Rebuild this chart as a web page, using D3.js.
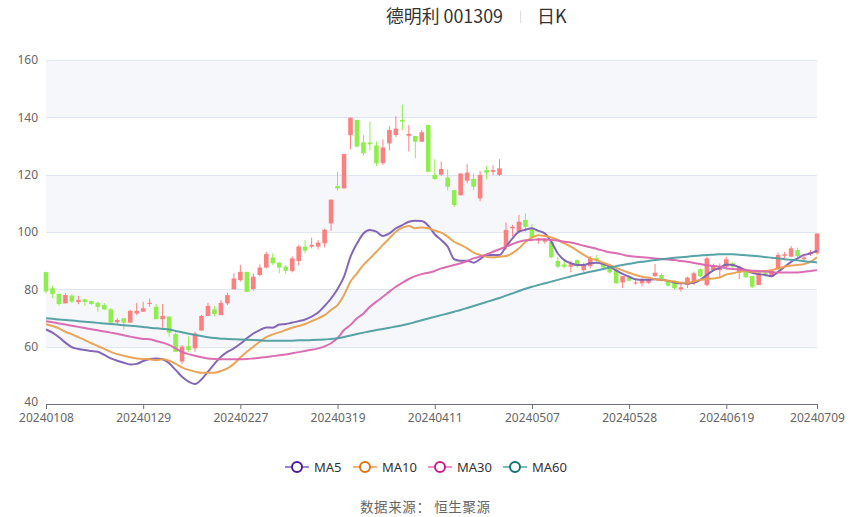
<!DOCTYPE html>
<html><head><meta charset="utf-8">
<script src="https://cdn.jsdelivr.net/npm/d3@7/dist/d3.min.js"></script>
<style>
html,body{margin:0;padding:0;background:#fff;}
svg{display:block;font-family:"Noto Sans CJK SC","Noto Sans",sans-serif;}
</style></head>
<body><svg id="c" width="850" height="517"></svg>
<script>
const dates = ["20240108","20240109","20240110","20240111","20240112","20240115","20240116","20240117","20240118","20240119",
"20240122","20240123","20240124","20240125","20240126","20240129","20240130","20240131","20240201","20240202",
"20240205","20240206","20240207","20240208","20240219","20240220","20240221","20240222","20240223","20240226",
"20240227","20240228","20240229","20240301","20240304","20240305","20240306","20240307","20240308","20240311",
"20240312","20240313","20240314","20240315","20240318","20240319","20240320","20240321","20240322","20240325",
"20240326","20240327","20240328","20240329","20240401","20240402","20240403","20240408","20240409","20240410",
"20240411","20240412","20240415","20240416","20240417","20240418","20240419","20240422","20240423","20240424",
"20240425","20240426","20240429","20240430","20240506","20240507","20240508","20240509","20240510","20240513",
"20240514","20240515","20240516","20240517","20240520","20240521","20240522","20240523","20240524","20240527",
"20240528","20240529","20240530","20240531","20240603","20240604","20240605","20240606","20240607","20240611",
"20240612","20240613","20240614","20240617","20240618","20240619","20240620","20240621","20240624","20240625",
"20240626","20240627","20240628","20240701","20240702","20240703","20240704","20240705","20240708","20240709"];
const tickLabels = ["20240108","20240129","20240227","20240319","20240411","20240507","20240528","20240619","20240709"];
const yTicks = [40,60,80,100,120,140,160];
// [open, close, low, high]
const ohlc = [
[86.0,79.3,78.6,86.2],[80.4,78.4,76.9,81.2],[78.4,74.9,74.3,78.4],[75.1,78.0,75.1,78.6],[77.8,75.7,75.2,78.3],
[75.6,76.3,74.8,77.7],[76.5,75.6,74.3,76.7],[75.9,74.9,74.6,76.1],[75.3,73.9,72.2,75.7],[74.5,73.0,72.8,75.2],
[73.0,68.4,68.0,73.5],[68.5,69.3,68.1,69.9],[69.9,68.4,66.0,69.9],[68.4,72.5,68.4,72.8],[71.6,72.5,71.0,75.3],
[72.2,73.4,72.2,75.7],[74.9,75.3,73.9,76.8],[73.9,69.6,69.6,74.9],[69.6,70.7,66.4,74.9],[70.5,64.9,63.5,70.5],
[64.4,58.2,58.2,64.9],[54.8,60.0,54.0,60.6],[60.2,58.8,58.2,63.5],[59.4,64.6,58.2,65.2],[65.6,70.7,65.6,71.0],
[70.7,74.2,70.7,75.3],[73.0,71.4,70.5,74.2],[71.0,75.3,71.0,76.2],[75.1,78.0,74.5,78.8],[80.0,83.8,80.0,85.6],
[83.2,86.1,82.7,88.5],[86.1,79.1,79.0,86.1],[80.1,84.4,79.5,85.5],[85.0,87.6,84.6,88.7],[87.6,92.3,87.3,93.1],
[91.1,89.1,88.5,92.6],[89.3,87.6,85.6,89.6],[87.9,86.5,85.3,88.5],[86.4,90.8,85.9,91.5],[89.9,94.9,88.3,95.5],
[94.9,93.5,92.6,97.2],[94.9,95.5,94.3,98.0],[94.9,96.3,94.0,97.2],[96.1,100.8,94.6,101.1],[103.0,111.3,100.4,111.3],
[116.0,115.2,114.4,121.0],[115.2,127.2,115.2,127.2],[133.8,139.9,128.8,139.9],[139.1,129.8,129.5,139.1],[131.3,127.5,126.8,133.8],
[131.2,130.6,128.5,138.5],[130.2,124.0,122.9,131.5],[124.0,129.5,123.4,132.3],[130.9,135.6,128.5,136.9],[133.8,136.1,133.1,140.4],
[139.1,138.5,135.6,144.5],[133.6,134.2,128.1,137.3],[133.5,131.5,125.7,133.5],[131.5,134.8,131.5,135.6],[137.3,121.0,121.0,137.3],
[119.9,118.5,118.1,125.4],[120.0,122.0,119.6,124.5],[119.0,115.8,114.5,121.8],[114.6,109.4,108.8,114.6],[112.8,120.4,112.8,120.4],
[117.9,120.7,117.0,123.7],[118.5,115.8,114.6,120.4],[111.7,119.9,110.7,121.3],[121.6,120.7,118.3,123.0],[121.0,121.6,119.8,123.3],
[119.9,122.2,119.5,125.4],[94.9,100.7,93.7,103.3],[101.3,101.8,98.5,102.5],[100.1,103.6,99.5,106.0],[104.2,101.8,100.1,106.5],
[101.3,98.0,97.5,102.8],[97.0,97.5,95.9,98.0],[96.6,97.2,95.9,98.0],[96.6,91.2,90.9,96.6],[89.9,87.9,87.3,91.4],
[88.7,87.9,87.3,90.5],[87.9,88.7,85.9,89.9],[90.2,88.1,87.5,90.4],[86.7,88.5,86.1,89.3],[88.1,90.8,87.3,91.6],
[90.8,90.0,89.4,92.0],[89.1,87.6,87.1,89.6],[87.9,85.9,85.5,88.5],[86.7,82.1,81.8,87.2],[82.4,84.6,80.4,84.6],
[84.1,83.0,82.7,84.4],[82.1,82.4,81.6,83.3],[82.1,83.3,81.0,83.8],[82.3,83.3,81.9,83.8],[84.6,85.8,84.4,88.8],
[85.0,83.5,82.7,85.6],[83.0,81.3,81.0,83.3],[82.7,80.4,79.9,83.3],[80.0,80.7,79.2,81.9],[81.5,84.1,80.4,84.4],
[82.3,85.6,81.5,86.2],[87.0,84.6,84.2,87.4],[81.5,90.8,81.0,91.4],[86.8,88.4,86.3,89.0],[86.7,87.6,84.2,89.1],
[87.9,90.5,87.5,91.4],[89.1,87.9,87.5,89.6],[86.1,87.9,83.5,87.9],[86.7,84.2,84.0,87.3],[84.6,80.9,80.4,84.6],
[81.5,85.6,81.5,86.2],[85.8,85.0,84.4,86.7],[84.4,86.5,84.2,87.0],[87.3,92.0,86.8,92.8],[91.7,92.2,90.8,93.1],
[91.4,94.3,91.2,95.1],[93.7,91.6,91.2,94.6],[90.5,91.1,89.6,92.0],[92.3,92.9,91.6,93.7],[92.6,99.5,92.1,99.5]];
const ma5 = [66.0,64.9,63.3,61.4,59.8,59.2,58.8,58.5,58.2,57.1,55.9,55.1,54.4,53.8,54.0,55.0,55.7,55.9,55.6,54.2,
51.9,49.5,47.8,47.0,48.6,51.3,54.0,56.5,58.2,59.4,61.0,62.9,64.6,65.8,66.7,66.6,67.7,67.9,68.4,68.9,
69.5,70.5,71.9,74.2,76.8,80.1,84.4,91.4,96.0,99.5,100.7,100.1,98.6,99.5,101.3,102.4,103.6,103.9,103.8,102.2,
99.2,97.2,94.9,90.5,90.0,90.0,89.3,90.5,92.0,92.0,92.0,94.9,97.8,100.1,100.8,101.3,100.4,99.5,96.6,92.5,
90.2,89.1,88.5,88.5,89.1,89.3,88.8,87.9,86.6,85.4,84.4,83.5,83.3,83.3,83.5,83.3,83.0,82.4,82.1,82.1,
82.3,83.3,85.0,86.6,87.5,88.7,88.5,87.7,86.7,85.8,85.3,85.0,84.6,86.1,87.9,89.6,90.8,92.0,92.5,93.5];
const ma10 = [67.8,67.2,66.4,65.2,64.3,63.3,62.3,61.2,60.2,59.2,58.2,57.4,56.8,56.3,55.9,55.7,55.6,55.3,55.6,55.1,
54.0,52.8,51.9,51.3,50.9,50.9,50.9,51.5,52.4,54.0,56.2,58.2,60.0,61.7,63.3,64.3,65.0,65.8,66.6,67.2,
67.9,68.9,69.9,71.0,72.8,74.5,78.0,82.7,85.6,88.5,90.8,93.1,95.5,97.8,100.1,101.5,102.1,101.3,101.6,101.3,
100.5,99.8,98.4,96.6,95.5,94.3,92.8,92.0,91.4,91.2,91.4,91.6,92.6,94.3,96.5,98.0,98.9,98.6,98.1,97.2,
96.0,94.9,93.5,92.0,90.8,90.2,89.3,88.5,87.5,86.6,85.8,85.0,84.4,84.1,83.5,83.3,83.0,82.7,82.3,82.3,
82.7,83.3,83.5,83.8,84.1,85.2,85.6,86.1,86.4,86.1,86.1,86.4,86.7,87.3,87.9,88.3,88.5,88.8,89.6,91.2];
const ma30 = [68.9,68.5,68.1,67.7,67.3,66.9,66.5,66.1,65.7,65.3,64.9,64.5,64.0,63.5,63.1,62.7,62.6,62.0,61.4,60.6,
59.4,58.2,57.4,56.8,56.3,55.9,55.7,55.6,55.6,55.6,55.6,55.7,55.9,56.1,56.4,56.7,57.0,57.3,57.7,58.1,
58.5,58.9,59.4,60.1,61.2,63.0,65.8,67.6,69.9,71.6,73.9,75.7,77.4,79.2,80.9,82.3,83.6,84.6,85.3,85.8,
86.4,87.3,87.9,88.5,89.1,89.9,90.8,91.4,92.2,93.1,94.0,94.9,95.8,96.6,97.1,97.2,97.5,97.5,97.2,97.0,
96.6,96.3,95.8,95.2,94.7,94.1,93.5,92.9,92.6,92.1,91.6,91.4,91.2,91.0,90.8,90.6,90.4,90.2,89.9,89.6,
89.2,88.8,88.4,88.1,87.9,87.3,87.1,86.9,86.7,86.5,86.4,86.2,86.0,85.9,85.9,85.9,85.9,86.1,86.4,86.7];
const ma60 = [69.9,69.7,69.5,69.3,69.1,68.9,68.7,68.5,68.3,68.1,67.9,67.7,67.5,67.3,67.1,66.9,66.6,66.4,66.2,66.0,
65.5,65.0,64.5,64.1,63.7,63.3,63.0,62.8,62.7,62.6,62.5,62.4,62.3,62.2,62.1,62.1,62.1,62.1,62.1,62.2,
62.2,62.3,62.4,62.5,62.7,62.9,63.4,63.9,64.4,64.9,65.4,65.8,66.2,66.6,67.0,67.5,68.0,68.6,69.2,69.8,
70.4,71.0,71.6,72.2,72.8,73.5,74.2,74.9,75.6,76.3,77.0,77.8,78.6,79.4,80.2,80.9,81.5,82.1,82.7,83.3,
83.9,84.5,85.1,85.6,86.1,86.6,87.1,87.6,88.1,88.5,88.9,89.3,89.6,89.9,90.2,90.5,90.8,91.0,91.2,91.4,
91.6,91.8,92.0,92.1,92.2,92.2,92.2,92.1,91.9,91.7,91.5,91.3,91.0,90.8,90.5,90.3,90.1,89.8,89.6,89.4];

const series = [
  {name:"MA5", data:ma5, line:"#7d5fb2", icon:"#9c84cc", dot:"#4a1e9a"},
  {name:"MA10", data:ma10, line:"#e8a050", icon:"#f2b47c", dot:"#dd7413"},
  {name:"MA30", data:ma30, line:"#d966ae", icon:"#ec92c8", dot:"#c91d88"},
  {name:"MA60", data:ma60, line:"#4f9ea0", icon:"#7bbcbc", dot:"#137272"}
];
const UP = "#fd8080", DOWN = "#8eee4e";

const svg = d3.select("#c");
const L = 46, R = 817, T = 60, B = 404;
const x = d3.scalePoint().domain(dates).range([L, R]).padding(0);
const y = d3.scaleLinear().domain([40, 160]).range([B, T]);

// split areas
const bands = d3.pairs(yTicks);
svg.append("g").selectAll("rect").data(bands).join("rect")
  .attr("x", L).attr("width", R - L)
  .attr("y", d => y(d[1])).attr("height", d => y(d[0]) - y(d[1]))
  .attr("fill", (d, i) => i % 2 === 1 ? "#f5f7fb" : "#ffffff");

// grid
const yAxis = d3.axisLeft(y).tickValues(yTicks).tickSize(-(R - L)).tickPadding(8);
const gy = svg.append("g").attr("transform", `translate(${L},0)`).call(yAxis);
gy.select(".domain").remove();
gy.selectAll(".tick line").attr("stroke", "#e0e6f1").attr("shape-rendering","crispEdges");
gy.selectAll(".tick text").attr("fill", "#666").style("font-size", "12px").style("font-family","'Noto Sans',sans-serif");
gy.selectAll(".tick").filter(d => d === 40).select("text").attr("dy", "0.1em");

// candles
const bw = 4.6;
const cg = svg.append("g");
const cd = dates.map((d, i) => ({d, o: ohlc[i][0], c: ohlc[i][1], l: ohlc[i][2], h: ohlc[i][3]}));
cg.selectAll("line").data(cd).join("line")
  .attr("x1", d => x(d.d)).attr("x2", d => x(d.d))
  .attr("y1", d => y(d.h)).attr("y2", d => y(d.l))
  .attr("stroke", d => d.c >= d.o ? UP : DOWN).attr("stroke-width", 1);
cg.selectAll("rect").data(cd).join("rect")
  .attr("x", d => x(d.d) - bw / 2).attr("width", bw)
  .attr("y", d => y(Math.max(d.o, d.c)))
  .attr("height", d => Math.max(1, Math.abs(y(d.o) - y(d.c))))
  .attr("fill", d => d.c >= d.o ? UP : DOWN);

// MA lines
const line = d3.line().x((v, i) => x(dates[i])).y(v => y(v)).curve(d3.curveMonotoneX);
series.forEach(s => {
  svg.append("path").datum(s.data).attr("d", line)
    .attr("fill", "none").attr("stroke", s.line).attr("stroke-width", 2).attr("stroke-opacity", 0.95);
});

// x axis
const xAxis = d3.axisBottom(x).tickValues(tickLabels).tickSize(5).tickPadding(4);
const gx = svg.append("g").attr("transform", `translate(0,${B})`).call(xAxis);
gx.select(".domain").attr("stroke", "#6e7079").attr("d", `M${L},0.5H${R}`);
gx.selectAll(".tick line").attr("stroke", "#6e7079");
gx.selectAll(".tick text").attr("fill", "#666").style("font-size", "12px").style("font-family","'Noto Sans',sans-serif");

// title
svg.append("text").attr("x", 386).attr("y", 23)
  .style("font-size", "18px").attr("fill", "#333")
  .attr("textLength", 117).attr("lengthAdjust", "spacingAndGlyphs").text("德明利 001309");
svg.append("line").attr("x1", 520.5).attr("x2", 520.5).attr("y1", 11).attr("y2", 23).attr("stroke", "#ddd");
svg.append("text").attr("x", 537).attr("y", 23).style("font-size", "18px").attr("fill", "#333").text("日K");

// legend
const lgX = [285, 353, 428, 503];
const lg = svg.append("g").selectAll("g").data(series).join("g")
  .attr("transform", (d, i) => `translate(${lgX[i]},467)`);
lg.append("line").attr("x1", 0).attr("x2", 24).attr("stroke", d => d.icon).attr("stroke-width", 2);
lg.append("circle").attr("cx", 12).attr("r", 5).attr("fill", "#fff").attr("stroke", d => d.dot).attr("stroke-width", 2);
lg.append("text").attr("x", 29).attr("y", 4.5).style("font-size", "13px").attr("fill", "#333")
  .style("font-family","'Noto Sans',sans-serif").text(d => d.name);

// footer
svg.append("text").attr("x", 360).attr("y", 512)
  .style("font-size", "13.5px").attr("fill", "#666")
  .attr("textLength", 130).attr("lengthAdjust", "spacing").text("数据来源：  恒生聚源");
</script></body></html>
